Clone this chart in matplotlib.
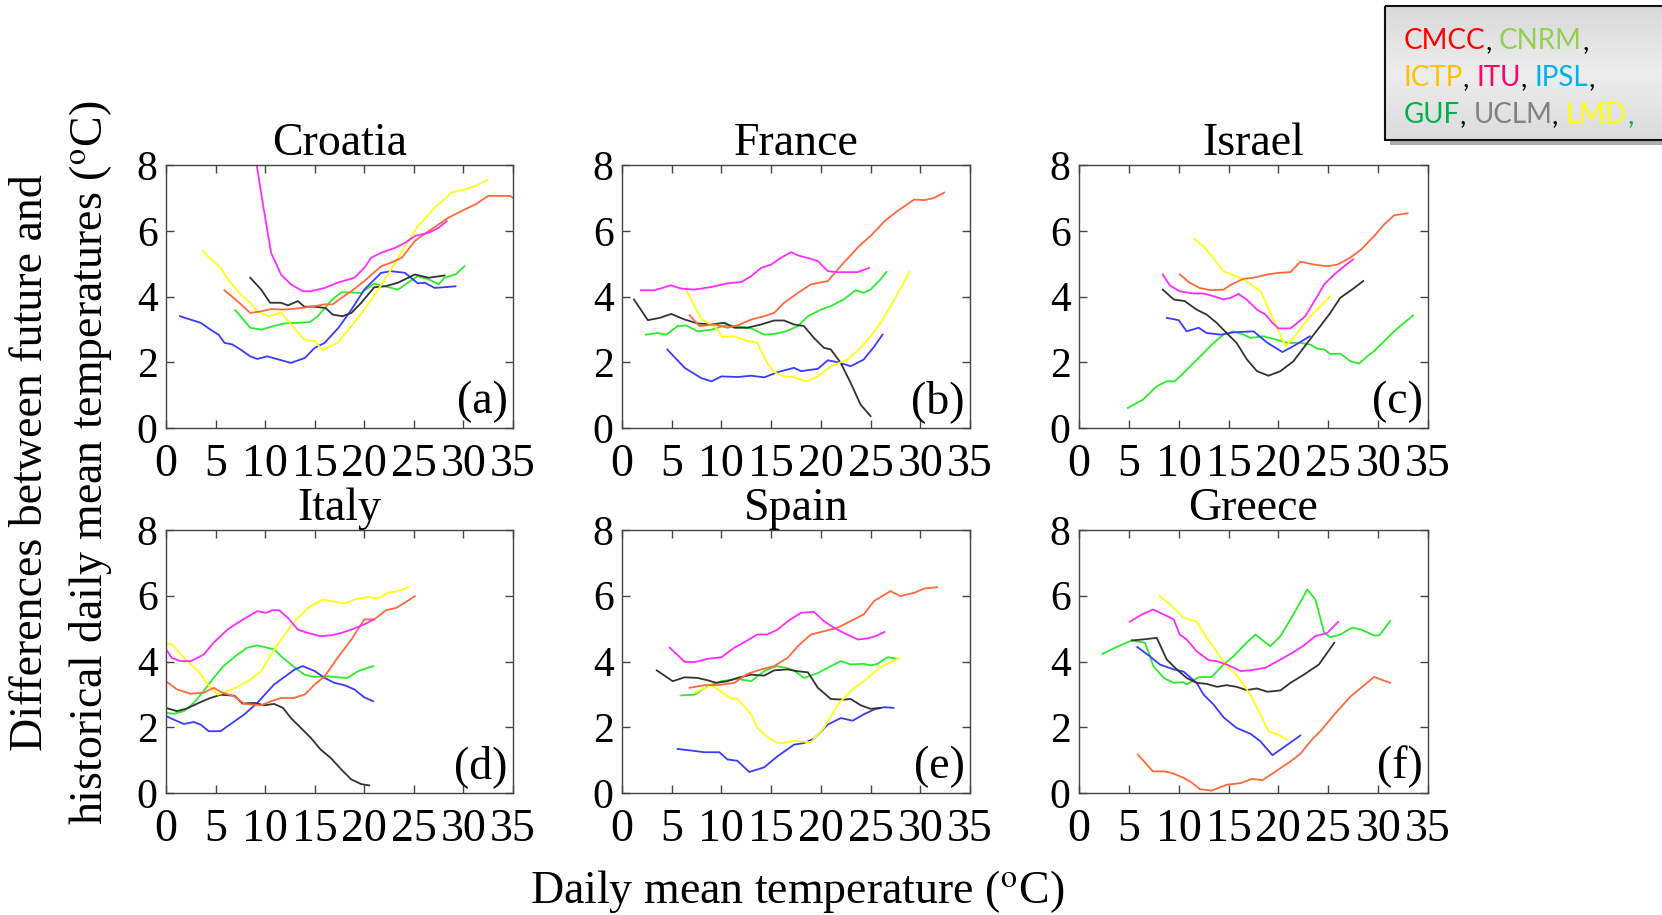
import matplotlib
matplotlib.use("Agg")
import matplotlib.pyplot as plt
from matplotlib.patches import Rectangle
import numpy as np

# ---------------- data ----------------
countries = ["Croatia", "France", "Israel", "Italy", "Spain", "Greece"]
panel_labels = ["(a)", "(b)", "(c)", "(d)", "(e)", "(f)"]
x_ticks = [0, 5, 10, 15, 20, 25, 30, 35]
y_ticks = [0, 2, 4, 6, 8]

croatia = {
    "magenta": [(9.0, 8.3), (9.15, 8.0), (9.7, 6.95), (10.6, 5.33), (11.6, 4.67), (12.6, 4.37), (13.8, 4.16),
                (14.6, 4.16), (16.0, 4.26), (17.3, 4.42), (19.0, 4.57), (20.0, 4.87), (20.7, 5.18), (21.7, 5.33),
                (23.1, 5.48), (24.1, 5.63), (25.1, 5.84), (26.5, 5.94), (27.5, 6.09), (28.3, 6.29)],
    "orange": [(5.9, 4.19), (7.2, 3.86), (8.5, 3.50), (9.6, 3.55), (10.6, 3.62), (11.9, 3.60), (13.6, 3.65),
               (15.0, 3.71), (16.0, 3.76), (16.8, 3.76), (17.7, 3.96), (18.7, 4.16), (20.0, 4.47), (21.7, 4.92),
               (22.7, 5.03), (23.8, 5.18), (25.1, 5.69), (26.5, 5.99), (28.5, 6.40), (29.8, 6.60), (31.2, 6.80),
               (32.5, 7.06), (33.5, 7.06), (34.7, 7.06), (35.2, 6.95)],
    "yellow": [(3.7, 5.38), (5.5, 4.87), (6.5, 4.42), (7.7, 4.01), (8.5, 3.81), (9.2, 3.55), (10.4, 3.40),
               (11.6, 3.52), (12.6, 3.15), (13.95, 2.69), (15.0, 2.64), (15.8, 2.37), (17.3, 2.59), (18.7, 3.10),
               (20.0, 3.60), (21.4, 4.21), (22.7, 4.82), (24.1, 5.53), (25.4, 6.14), (27.1, 6.70), (28.8, 7.16),
               (30.2, 7.26), (31.2, 7.36), (32.4, 7.54)],
    "green": [(7.0, 3.58), (8.5, 3.05), (9.6, 2.99), (10.6, 3.08), (11.9, 3.18), (13.3, 3.20), (14.5, 3.22),
              (15.3, 3.40), (16.7, 3.89), (17.7, 4.13), (19.7, 4.11), (21.0, 4.39), (22.1, 4.31), (23.4, 4.21),
              (24.4, 4.42), (25.4, 4.62), (26.5, 4.52), (27.5, 4.37), (28.1, 4.57), (29.2, 4.67), (30.1, 4.92)],
    "blue": [(1.4, 3.40), (3.5, 3.20), (4.5, 2.99), (5.3, 2.84), (5.9, 2.59), (6.7, 2.54), (7.5, 2.39),
             (8.5, 2.18), (9.2, 2.10), (10.2, 2.18), (11.4, 2.08), (12.6, 1.98), (14.0, 2.13), (15.0, 2.44),
             (16.0, 2.59), (17.4, 3.05), (18.7, 3.60), (20.0, 4.21), (21.7, 4.72), (22.7, 4.77), (24.1, 4.72),
             (25.4, 4.40), (26.1, 4.42), (27.1, 4.26), (29.2, 4.31)],
    "black": [(8.5, 4.57), (9.6, 4.21), (10.5, 3.81), (11.6, 3.81), (12.3, 3.73), (13.3, 3.86), (13.95, 3.69),
              (15.0, 3.69), (16.1, 3.65), (16.8, 3.45), (17.8, 3.40), (18.7, 3.50), (19.7, 3.81), (21.0, 4.28),
              (22.1, 4.31), (23.4, 4.42), (25.1, 4.67), (26.5, 4.57), (28.1, 4.64)],
}

france = {
    "magenta": [(1.9, 4.19), (3.3, 4.19), (4.9, 4.34), (5.95, 4.24), (7.3, 4.21), (9.0, 4.29), (10.6, 4.40),
                (12.0, 4.44), (13.0, 4.62), (14.0, 4.87), (15.0, 4.97), (16.0, 5.18), (17.0, 5.35), (17.7, 5.25),
                (18.7, 5.17), (19.7, 5.08), (20.7, 4.77), (21.7, 4.74), (23.0, 4.74), (23.7, 4.74), (24.85, 4.87)],
    "orange": [(6.8, 3.43), (7.8, 3.10), (9.3, 3.15), (10.6, 3.05), (11.6, 3.12), (13.0, 3.30), (14.3, 3.40),
               (15.3, 3.50), (16.3, 3.81), (17.7, 4.11), (19.0, 4.37), (20.7, 4.47), (22.3, 5.03), (24.0, 5.58),
               (25.0, 5.84), (26.4, 6.29), (27.7, 6.60), (29.4, 6.95), (30.4, 6.93), (31.4, 7.00), (32.4, 7.16)],
    "yellow": [(6.45, 4.21), (8.0, 3.30), (9.3, 3.10), (10.1, 2.77), (11.3, 2.79), (12.3, 2.67), (13.6, 2.59),
               (14.6, 1.98), (15.3, 1.70), (16.3, 1.57), (17.3, 1.55), (18.5, 1.42), (19.7, 1.57), (21.0, 1.88),
               (22.7, 2.08), (24.0, 2.44), (25.0, 2.79), (26.0, 3.20), (27.4, 3.91), (28.9, 4.75)],
    "green": [(2.4, 2.84), (3.6, 2.89), (4.45, 2.84), (5.6, 3.10), (6.45, 3.12), (7.6, 2.94), (9.0, 2.99),
              (10.3, 3.12), (11.6, 3.10), (13.0, 3.03), (14.3, 2.84), (15.3, 2.86), (16.5, 2.94), (17.7, 3.10),
              (18.7, 3.40), (20.0, 3.60), (21.0, 3.71), (22.3, 3.91), (23.5, 4.19), (24.3, 4.11), (25.0, 4.21),
              (26.0, 4.52), (26.6, 4.75)],
    "blue": [(4.55, 2.39), (6.3, 1.83), (7.96, 1.52), (9.0, 1.42), (10.0, 1.57), (11.6, 1.55), (13.0, 1.59),
             (14.3, 1.54), (15.65, 1.70), (17.3, 1.83), (18.0, 1.73), (19.7, 1.80), (20.7, 2.06), (21.7, 2.00),
             (23.0, 1.88), (24.3, 2.08), (25.4, 2.49), (26.2, 2.84)],
    "black": [(1.2, 3.91), (2.6, 3.28), (3.8, 3.35), (4.95, 3.47), (6.3, 3.30), (7.6, 3.18), (9.0, 3.15),
              (10.3, 3.20), (11.3, 3.05), (12.6, 3.05), (14.0, 3.15), (15.3, 3.27), (16.3, 3.27), (17.3, 3.15),
              (18.3, 3.10), (19.3, 2.74), (20.3, 2.44), (21.0, 2.39), (22.0, 1.98), (23.0, 1.37), (24.0, 0.71),
              (25.0, 0.36)],
}

israel = {
    "magenta": [(8.4, 4.67), (9.1, 4.34), (10.1, 4.16), (11.5, 4.09), (12.5, 4.09), (13.5, 4.01), (14.5, 3.91),
                (15.2, 3.96), (16.0, 4.08), (16.8, 3.91), (17.85, 3.60), (18.7, 3.45), (19.4, 3.20), (20.0, 3.03),
                (21.2, 3.03), (21.9, 3.20), (22.7, 3.40), (23.6, 3.86), (24.6, 4.37), (25.6, 4.67), (26.6, 4.92),
                (27.5, 5.13)],
    "orange": [(10.1, 4.67), (11.1, 4.42), (12.1, 4.26), (13.2, 4.19), (14.5, 4.21), (15.3, 4.37), (16.5, 4.54),
               (17.5, 4.57), (18.9, 4.67), (20.0, 4.72), (21.2, 4.74), (22.2, 5.06), (23.6, 4.97), (24.9, 4.92),
               (25.9, 4.97), (27.2, 5.18), (28.3, 5.43), (29.6, 5.84), (30.6, 6.19), (31.6, 6.47), (32.95, 6.53)],
    "yellow": [(11.5, 5.76), (12.65, 5.48), (14.5, 4.77), (16.5, 4.52), (18.2, 4.16), (19.5, 3.30), (20.7, 2.49),
               (21.5, 2.74), (22.9, 3.30), (25.2, 4.01)],
    "green": [(4.9, 0.61), (6.4, 0.86), (7.8, 1.27), (8.8, 1.42), (9.6, 1.42), (10.5, 1.68), (11.5, 1.98),
              (12.5, 2.28), (13.5, 2.59), (14.5, 2.84), (15.5, 2.94), (16.5, 2.84), (17.2, 2.74), (18.5, 2.79),
              (19.5, 2.71), (20.9, 2.59), (22.2, 2.59), (23.2, 2.54), (23.9, 2.41), (24.6, 2.39), (25.2, 2.25),
              (26.2, 2.26), (27.25, 2.03), (28.1, 1.96), (28.9, 2.18), (29.6, 2.34), (30.6, 2.64), (31.6, 2.94),
              (32.6, 3.20), (33.5, 3.42)],
    "blue": [(8.8, 3.35), (10.0, 3.28), (10.8, 2.94), (12.0, 3.05), (12.8, 2.89), (14.2, 2.84), (15.5, 2.91),
             (17.5, 2.94), (18.9, 2.59), (20.4, 2.31), (21.5, 2.49), (23.15, 2.79)],
    "black": [(8.4, 4.21), (9.5, 3.91), (10.6, 3.86), (11.8, 3.60), (12.8, 3.45), (13.8, 3.20), (14.8, 2.89),
              (15.8, 2.59), (16.85, 2.08), (17.85, 1.73), (19.0, 1.59), (20.2, 1.73), (21.5, 2.03), (22.9, 2.59),
              (24.2, 3.10), (25.2, 3.50), (26.2, 3.96), (27.6, 4.26), (28.5, 4.47)],
}

italy = {
    "magenta": [(0.0, 4.37), (0.6, 4.11), (1.45, 4.01), (2.5, 4.01), (3.8, 4.21), (4.8, 4.57), (6.2, 4.97),
                (7.5, 5.23), (9.2, 5.53), (10.1, 5.48), (10.7, 5.56), (11.4, 5.56), (12.3, 5.33), (13.3, 4.97),
                (14.3, 4.87), (15.6, 4.77), (16.7, 4.80), (17.7, 4.87), (18.7, 4.97), (20.0, 5.13), (21.0, 5.28)],
    "orange": [(0.0, 3.40), (1.1, 3.15), (2.5, 3.02), (3.8, 3.05), (4.8, 3.20), (5.7, 3.05), (6.9, 2.94),
               (7.9, 2.71), (9.6, 2.67), (10.6, 2.79), (11.6, 2.89), (12.9, 2.89), (14.0, 3.00), (15.0, 3.30),
               (16.0, 3.55), (17.3, 4.11), (18.7, 4.67), (20.0, 5.28), (21.0, 5.28), (22.2, 5.56), (23.2, 5.63),
               (24.1, 5.79), (25.1, 5.99)],
    "yellow": [(0.0, 4.54), (0.6, 4.52), (1.45, 4.23), (2.5, 3.91), (3.5, 3.62), (4.2, 3.30), (5.2, 2.99),
               (5.8, 3.05), (7.2, 3.22), (8.5, 3.45), (9.6, 3.71), (10.6, 4.21), (11.6, 4.67), (13.0, 5.23),
               (14.3, 5.63), (15.8, 5.89), (17.0, 5.82), (18.0, 5.76), (19.0, 5.89), (20.4, 5.96), (21.4, 5.92),
               (22.4, 6.09), (23.4, 6.14), (24.4, 6.26)],
    "green": [(0.0, 2.44), (0.8, 2.41), (1.8, 2.49), (2.8, 2.74), (3.8, 3.10), (4.8, 3.50), (5.8, 3.86),
              (7.2, 4.21), (8.2, 4.42), (9.2, 4.49), (10.2, 4.42), (10.9, 4.37), (11.8, 4.11), (13.0, 3.81),
              (13.95, 3.60), (15.0, 3.53), (16.3, 3.55), (17.3, 3.52), (18.3, 3.50), (19.4, 3.71), (20.9, 3.86)],
    "blue": [(0.0, 2.34), (0.8, 2.23), (1.8, 2.10), (2.8, 2.16), (3.5, 2.08), (4.3, 1.88), (5.5, 1.88),
             (6.9, 2.18), (7.9, 2.39), (9.2, 2.74), (10.9, 3.30), (11.9, 3.52), (13.0, 3.76), (13.8, 3.86),
             (15.0, 3.71), (16.0, 3.50), (17.0, 3.35), (18.0, 3.28), (19.0, 3.15), (20.0, 2.91), (20.9, 2.79)],
    "black": [(0.0, 2.59), (1.1, 2.49), (2.1, 2.57), (3.3, 2.74), (4.3, 2.87), (5.5, 2.99), (6.9, 2.96),
              (7.7, 2.72), (8.9, 2.74), (9.9, 2.67), (10.9, 2.71), (11.8, 2.59), (12.6, 2.28), (13.6, 1.98),
              (14.6, 1.68), (15.6, 1.32), (16.6, 1.07), (17.7, 0.71), (18.7, 0.41), (19.7, 0.27), (20.5, 0.23)],
}

spain = {
    "magenta": [(4.8, 4.42), (6.3, 3.99), (7.3, 3.98), (8.6, 4.08), (10.0, 4.13), (11.3, 4.42), (12.6, 4.64),
                (13.6, 4.82), (14.6, 4.82), (15.65, 4.97), (16.7, 5.23), (18.0, 5.48), (19.3, 5.51), (20.3, 5.23),
                (21.3, 5.03), (22.3, 4.87), (23.7, 4.67), (24.7, 4.70), (25.5, 4.77), (26.4, 4.90)],
    "orange": [(6.8, 3.20), (8.3, 3.28), (9.6, 3.28), (11.3, 3.35), (12.6, 3.62), (14.0, 3.76), (15.3, 3.86),
               (16.65, 4.11), (17.7, 4.47), (19.0, 4.82), (20.3, 4.92), (21.7, 5.03), (23.0, 5.23), (24.3, 5.43),
               (25.35, 5.84), (27.0, 6.14), (28.0, 5.99), (29.4, 6.09), (30.4, 6.22), (31.7, 6.26)],
    "yellow": [(7.3, 3.05), (9.0, 3.28), (10.0, 3.08), (11.0, 2.87), (11.6, 2.87), (13.0, 2.39), (13.6, 1.98),
               (14.65, 1.70), (15.65, 1.52), (16.3, 1.52), (17.3, 1.59), (19.0, 1.54), (20.3, 1.98), (21.7, 2.69),
               (23.0, 3.10), (24.7, 3.50), (26.0, 3.83), (27.9, 4.11)],
    "green": [(5.95, 2.97), (7.3, 2.99), (8.6, 3.25), (10.0, 3.40), (11.6, 3.47), (13.0, 3.40), (14.3, 3.71),
              (15.5, 3.86), (16.5, 3.81), (17.3, 3.73), (18.3, 3.50), (19.7, 3.65), (21.0, 3.86), (22.0, 4.01),
              (23.0, 3.91), (24.3, 3.93), (25.0, 3.88), (25.7, 3.93), (26.7, 4.13), (27.7, 4.08)],
    "blue": [(5.6, 1.34), (7.0, 1.29), (8.3, 1.24), (9.8, 1.24), (10.6, 1.02), (11.6, 0.98), (12.8, 0.64),
             (14.3, 0.78), (15.65, 1.12), (17.3, 1.47), (18.3, 1.52), (19.3, 1.65), (20.7, 2.08), (22.0, 2.28),
             (23.2, 2.20), (24.3, 2.39), (25.35, 2.54), (26.35, 2.61), (27.3, 2.59)],
    "black": [(3.5, 3.73), (5.1, 3.40), (6.3, 3.52), (7.6, 3.50), (8.6, 3.43), (9.5, 3.35), (10.6, 3.40),
              (11.6, 3.50), (13.0, 3.60), (14.3, 3.57), (15.3, 3.73), (16.65, 3.76), (17.5, 3.71), (18.7, 3.67),
              (19.7, 3.20), (21.0, 2.86), (22.3, 2.84), (23.0, 2.86), (24.0, 2.67), (25.0, 2.56), (26.0, 2.59)],
}

greece = {
    "magenta": [(5.1, 5.21), (6.3, 5.43), (7.45, 5.58), (8.5, 5.43), (9.5, 5.28), (10.1, 4.82), (10.8, 4.67),
                (11.8, 4.31), (13.0, 4.04), (13.8, 4.01), (14.8, 3.91), (16.2, 3.71), (17.2, 3.73), (18.7, 3.81),
                (20.2, 4.06), (21.5, 4.28), (22.55, 4.49), (23.7, 4.77), (24.9, 4.87), (26.0, 5.21)],
    "orange": [(5.9, 1.17), (7.4, 0.66), (8.5, 0.66), (9.3, 0.61), (10.5, 0.46), (11.3, 0.32), (12.1, 0.12),
               (13.3, 0.07), (14.8, 0.25), (16.2, 0.30), (17.35, 0.43), (18.4, 0.39), (19.5, 0.61), (21.2, 0.96),
               (22.2, 1.19), (23.2, 1.57), (24.2, 1.88), (25.9, 2.49), (27.25, 2.94), (29.6, 3.53), (31.2, 3.35)],
    "yellow": [(8.1, 5.99), (9.3, 5.69), (10.5, 5.33), (11.8, 5.21), (12.8, 4.72), (13.8, 4.31), (14.8, 3.86),
               (15.8, 3.60), (17.2, 2.99), (18.2, 2.39), (19.0, 1.88), (19.9, 1.78), (20.9, 1.62)],
    "green": [(2.35, 4.23), (3.76, 4.44), (5.3, 4.64), (6.6, 4.57), (6.95, 4.31), (7.45, 3.86), (8.5, 3.50),
              (9.5, 3.35), (10.5, 3.37), (10.8, 3.30), (12.0, 3.52), (13.3, 3.53), (14.5, 3.91), (15.5, 4.16),
              (16.8, 4.57), (17.7, 4.82), (18.5, 4.62), (19.2, 4.47), (20.2, 4.77), (21.5, 5.43), (22.9, 6.19),
              (23.7, 5.89), (24.6, 4.87), (25.2, 4.74), (26.2, 4.82), (27.4, 5.03), (28.3, 4.97), (29.6, 4.79),
              (30.1, 4.79), (31.2, 5.23)],
    "blue": [(5.85, 4.44), (7.1, 4.16), (8.1, 3.91), (9.5, 3.76), (10.5, 3.69), (11.3, 3.48), (11.8, 3.35),
             (12.5, 2.99), (13.5, 2.69), (14.5, 2.30), (15.8, 1.98), (17.2, 1.80), (18.2, 1.57), (19.4, 1.15),
             (20.9, 1.47), (22.2, 1.75)],
    "black": [(5.3, 4.64), (6.4, 4.67), (7.8, 4.72), (8.8, 4.06), (9.8, 3.76), (10.8, 3.50), (11.8, 3.35),
              (12.8, 3.32), (13.85, 3.23), (14.8, 3.28), (15.8, 3.23), (16.8, 3.13), (17.85, 3.18), (18.9, 3.08),
              (20.2, 3.12), (21.2, 3.35), (22.55, 3.60), (24.06, 3.91), (25.6, 4.57)],
}

panel_data = [croatia, france, israel, italy, spain, greece]

series_colors = {
    "magenta": "#ff2bff",
    "orange": "#ff6a3a",
    "yellow": "#ffff10",
    "green": "#2aee2a",
    "blue": "#3b3bff",
    "black": "#333333",
}
series_order = ["green", "blue", "black", "yellow", "orange", "magenta"]

legend_lines = [
    [("CMCC", "#ff0000"), (", ", "#000000"), ("CNRM", "#92d050"), (",", "#000000")],
    [("ICTP", "#ffc000"), (", ", "#000000"), ("ITU", "#ff0066"), (", ", "#000000"), ("IPSL", "#00b0f0"), (",", "#000000")],
    [("GUF", "#00b050"), (", ", "#000000"), ("UCLM", "#808080"), (", ", "#000000"), ("LMD", "#ffff00"), (",", "#00b050")],
]

# ---------------- figure ----------------
plt.rcParams["font.family"] = ["Liberation Serif", "DejaVu Serif"]
plt.rcParams["mathtext.fontset"] = "stix"

W, H = 1662, 915
fig = plt.figure(figsize=(W / 100, H / 100), dpi=100)
fig.patch.set_facecolor("white")

lefts = [166, 622, 1079]
widths = [347, 348, 349]
tops = [165, 530]
ax_h = 263

for i, (name, lab, data) in enumerate(zip(countries, panel_labels, panel_data)):
    r, c = divmod(i, 3)
    ax = fig.add_axes([lefts[c] / W, 1 - (tops[r] + ax_h) / H, widths[c] / W, ax_h / H])
    for key in series_order:
        pts = np.array(data[key])
        ax.plot(pts[:, 0], pts[:, 1], color=series_colors[key], lw=1.3, solid_joinstyle="round")
    ax.set_xlim(0, 35)
    ax.set_ylim(0, 8)
    ax.set_xticks(x_ticks)
    ax.set_yticks(y_ticks)
    ax.tick_params(direction="in", length=6, width=1.0, color="#444444", top=True, right=True)
    ax.tick_params(axis="x", labelsize=33, pad=11)
    ax.tick_params(axis="y", labelsize=30, pad=6)
    for sp in ax.spines.values():
        sp.set_color("#444444")
        sp.set_linewidth(1.0)
    ax.set_title(name, fontsize=33, pad=7)
    ax.text(0.985, 0.02, lab, transform=ax.transAxes, ha="right", va="bottom", fontsize=33)

fig.text(62 / W, 0.494,
         "Differences between future and\nhistorical daily mean temperatures ($^{\\mathrm{o}}$C)",
         rotation=90, ha="center", va="center", multialignment="center", fontsize=33, linespacing=1.42)
fig.text(0.4796, 0.026, "Daily mean temperature ($^{\\mathrm{o}}$C)", ha="center", va="center", fontsize=33)

# ---------------- legend box ----------------
ov = fig.add_axes([0, 0, 1, 1], zorder=10)
ov.set_xlim(0, W)
ov.set_ylim(H, 0)
ov.axis("off")
bx0, by0, bx1, by1 = 1385, 6, 1668, 140
ov.add_patch(Rectangle((bx0 + 5, by0 + 5), bx1 - bx0, by1 - by0, facecolor="#8a8a8a", edgecolor="none", alpha=0.7))
grad = np.linspace(0, 1, 64).reshape(-1, 1)
ov.imshow(grad, extent=(bx0, bx1, by1, by0), cmap=matplotlib.colors.LinearSegmentedColormap.from_list(
    "g", ["#d9d9d9", "#ededed", "#dcdcdc"]), aspect="auto", zorder=1)
ov.add_patch(Rectangle((bx0, by0), bx1 - bx0, by1 - by0, facecolor="none", edgecolor="#111111", lw=1.5, zorder=2))
ov.set_xlim(0, W)
ov.set_ylim(H, 0)

line_y = [41, 78, 115]
for ly, parts in zip(line_y, legend_lines):
    prev = None
    for txt, col in parts:
        if prev is None:
            prev = ov.text(1404, ly, txt, color=col, fontsize=20, family=["Lato", "DejaVu Sans"],
                           ha="left", va="center", zorder=3)
        else:
            prev = ov.annotate(txt, xy=(1, 0), xycoords=prev, ha="left", va="bottom", color=col,
                               fontsize=20, family=["Lato", "DejaVu Sans"], zorder=3)

fig.savefig("out.png", dpi=100, facecolor="white")
